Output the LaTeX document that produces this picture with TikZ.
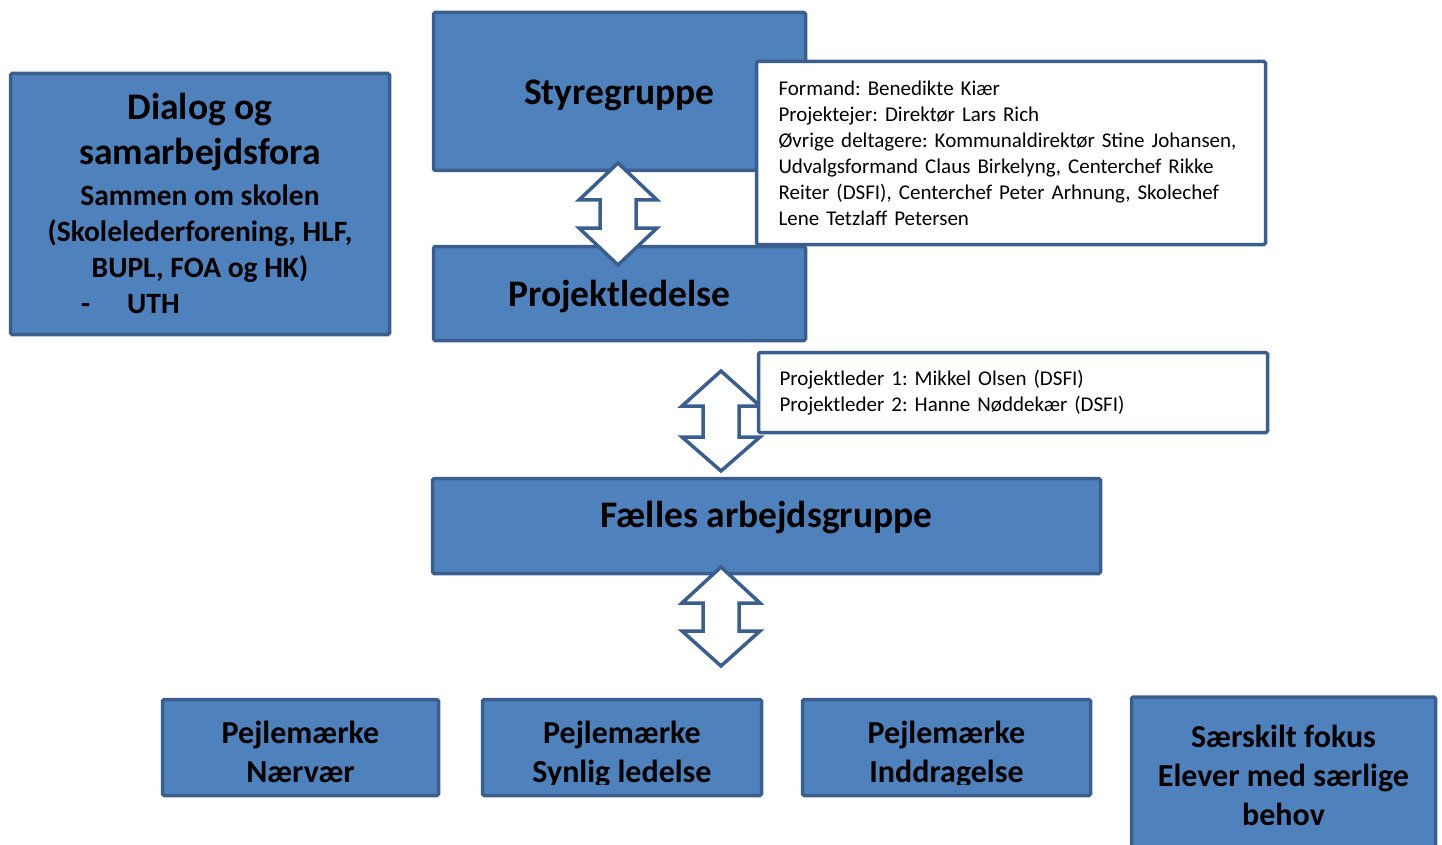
\documentclass[tikz,border=0pt]{standalone}
\usepackage{fontspec}
\setmainfont{Carlito}
\frenchspacing
\definecolor{boxfill}{HTML}{4F81BD}
\definecolor{boxline}{HTML}{3A5F8E}
\tikzset{
  bluebox/.style={draw=boxline, line width=3.5pt, fill=boxfill, rounded corners=1.5pt, inner sep=0pt},
  infobox/.style={draw=boxline, line width=3.5pt, fill=white, rounded corners=1.5pt, inner ysep=0pt, align=left, font=\fontsize{21}{26}\selectfont},
  titletext/.style={font=\fontsize{37.5}{45}\bfseries\selectfont, inner sep=0pt, anchor=base, align=center},
  subtext/.style={font=\fontsize{29.5}{36}\bfseries\selectfont, inner sep=0pt, anchor=base, align=center},
  ptext/.style={font=\fontsize{32}{39}\bfseries\selectfont, align=center, inner sep=0pt, anchor=base},
  blockarrow/.style={draw=boxline, line width=3.5pt, fill=white, line join=miter},
}
\newcommand{\dblarrow}[5]{% cx, top, h1, h2, bottom
  \draw[blockarrow] (#1,#2) -- (#1+39,#3) -- (#1+18,#3) -- (#1+18,#4) -- (#1+39,#4)
    -- (#1,#5) -- (#1-39,#4) -- (#1-18,#4) -- (#1-18,#3) -- (#1-39,#3) -- cycle;}
\begin{document}
\begin{tikzpicture}[x=1pt, y=-1pt]
\useasboundingbox (0,0) rectangle (1442,845);

% Dialog box
\node[bluebox, minimum width=379pt, minimum height=261pt] (dialog) at (200,204) {};
\node[titletext] (dt1) at (200,120) {Dialog og};
\node[titletext] (dt2) at (200,165) {samarbejdsfora};
\node[subtext] (dt3) at (200,277) {Sammen om skolen\\(Skolelederforening, HLF,\\BUPL, FOA og HK)};
\node[subtext, anchor=base west] (dt4) at (81,313) {-\hspace{37pt}UTH};

% Styregruppe and Projektledelse
\node[bluebox, minimum width=372pt, minimum height=158pt] (sty) at (619.5,91.5) {};
\node[titletext] (styt) at (619.5,105) {Styregruppe};
\node[bluebox, minimum width=372pt, minimum height=94pt] (proj) at (619.5,293.5) {};
\node[titletext] (projt) at (619.5,306) {Projektledelse};
\dblarrow{618}{163}{200}{228}{265}

\node[infobox, minimum width=509pt, minimum height=183pt, inner xsep=22pt, text width=465pt] (info1) at (1011,153)
  {Formand: Benedikte Kiær\\
   Projektejer: Direktør Lars Rich\\
   Øvrige deltagere: Kommunaldirektør Stine Johansen,\\
   Udvalgsformand Claus Birkelyng, Centerchef Rikke\\
   Reiter (DSFI), Centerchef Peter Arhnung, Skolechef\\
   Lene Tetzlaff Petersen};

% Fælles arbejdsgruppe
\node[bluebox, minimum width=668pt, minimum height=95pt] (faelles) at (766.5,526) {};
\node[titletext] (faellest) at (766.5,527) {Fælles arbejdsgruppe};

\dblarrow{721}{371}{406}{437}{471}
\node[infobox, minimum width=509pt, minimum height=80pt, inner xsep=21pt, text width=467pt] (info2) at (1013,392.5)
  {Projektleder 1: Mikkel Olsen (DSFI)\\
   Projektleder 2: Hanne Nøddekær (DSFI)};

\dblarrow{721}{567}{603}{631}{666}

% Bottom boxes
\node[bluebox, minimum width=276pt, minimum height=96pt] (p1) at (300.5,747.5) {};
\node[bluebox, minimum width=279pt, minimum height=96pt] (p2) at (622,747.5) {};
\node[bluebox, minimum width=288pt, minimum height=96pt] (p3) at (946.5,747.5) {};
\node[bluebox, minimum width=304pt, minimum height=158pt] (sf) at (1283.5,776) {};
\begin{scope}
  \clip (150,690) rectangle (1100,784);
  \node[ptext] (t1) at (300.5,782) {Pejlemærke\\Nærvær};
  \node[ptext] (t2) at (622,782) {Pejlemærke\\Synlig ledelse};
  \node[ptext] (t3) at (946.5,782) {Pejlemærke\\Inddragelse};
\end{scope}
\node[ptext] (t4) at (1283.5,825) {Særskilt fokus\\Elever med særlige\\behov};
\end{tikzpicture}
\end{document}
